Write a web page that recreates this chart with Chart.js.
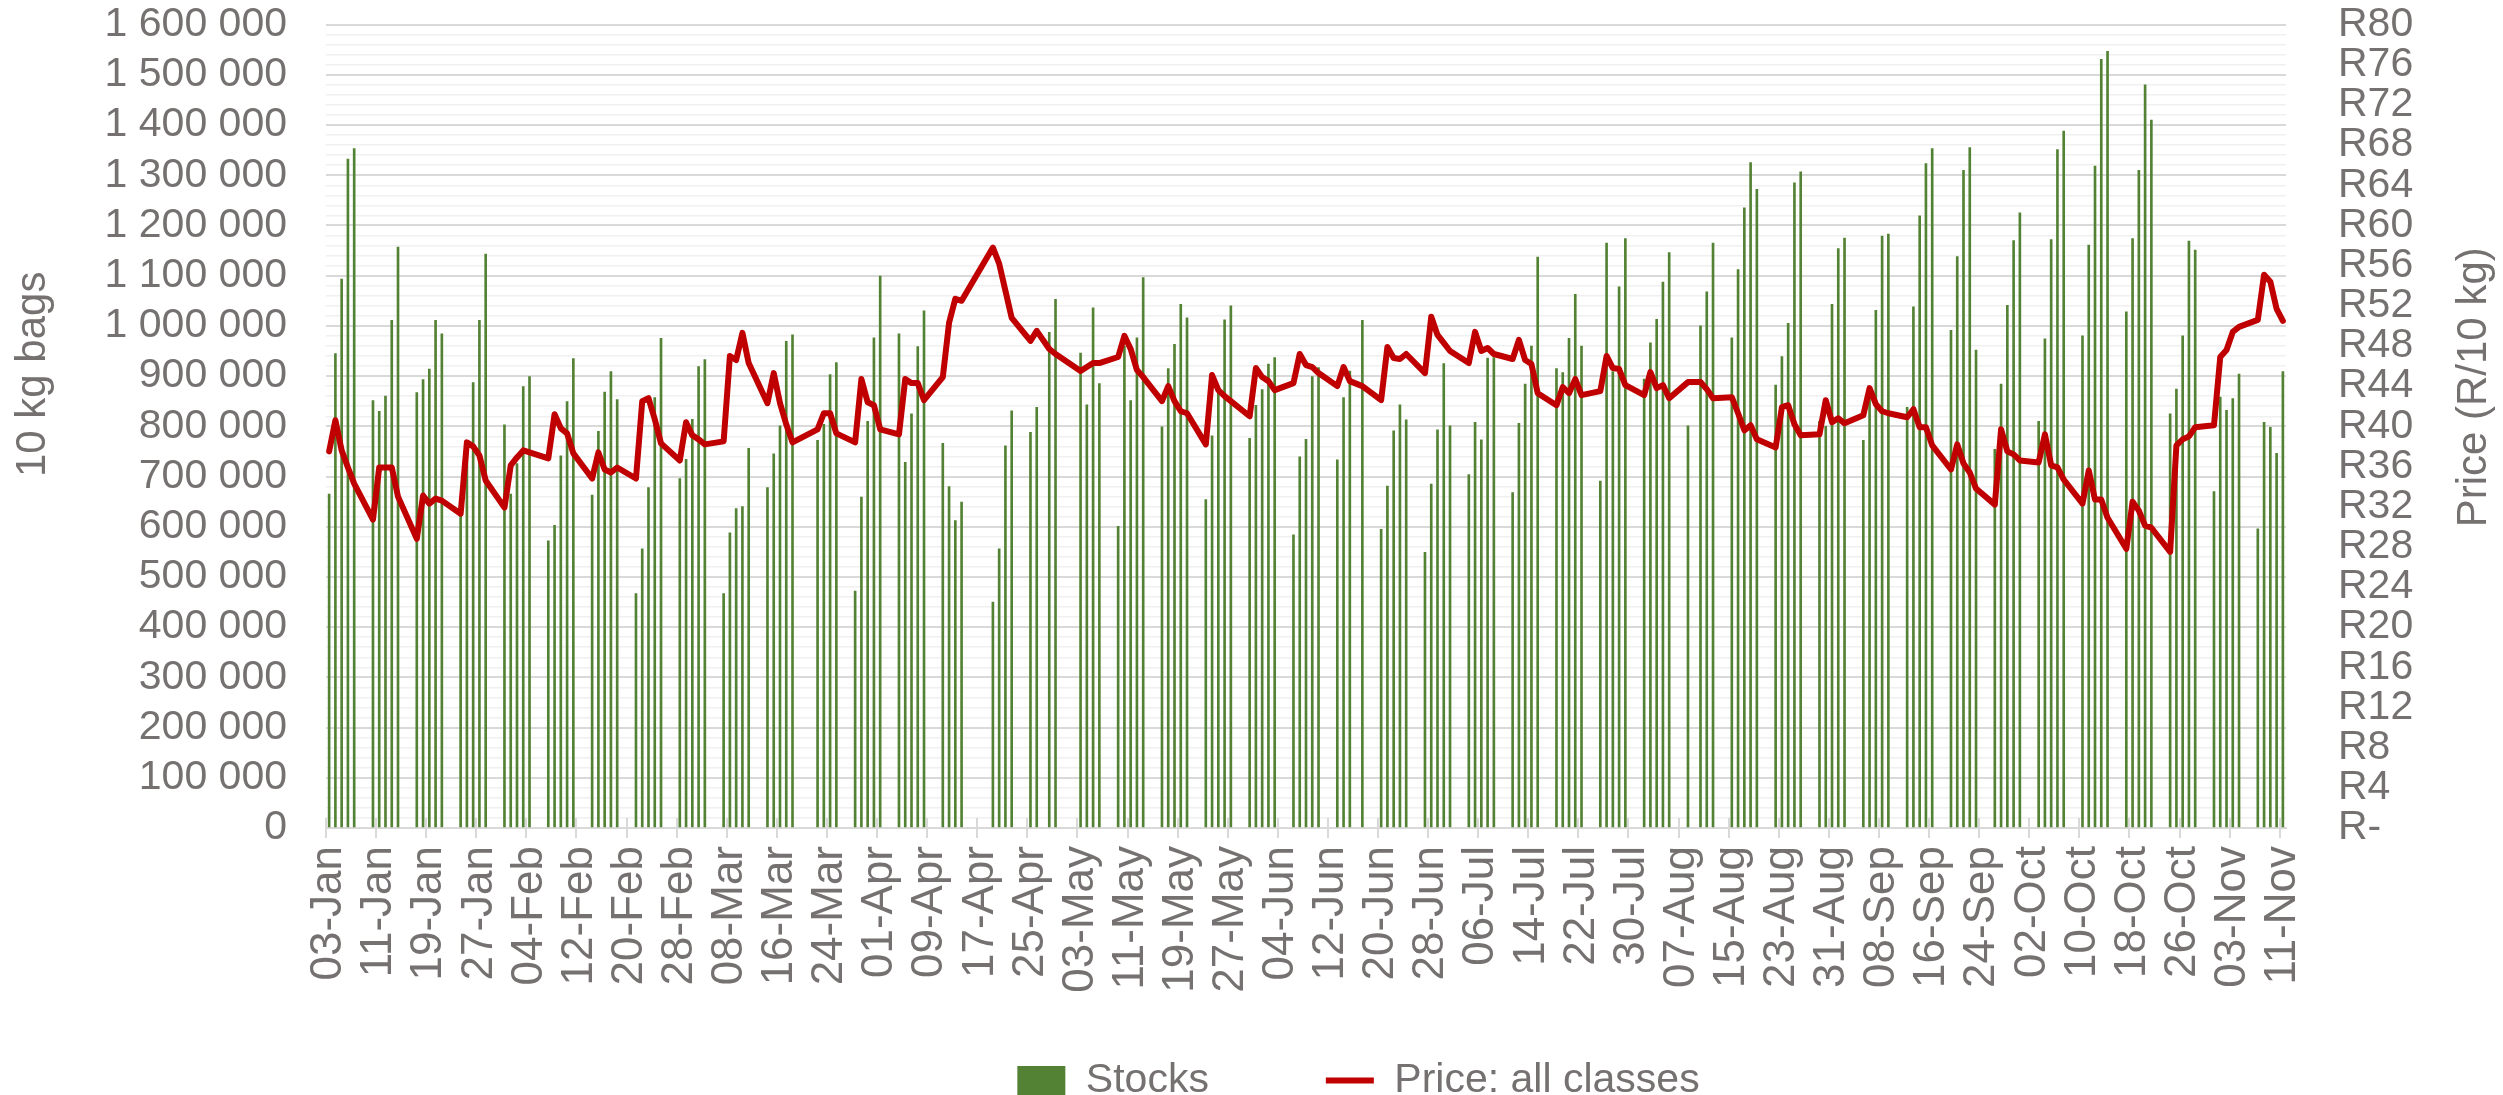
<!DOCTYPE html>
<html>
<head>
<meta charset="utf-8">
<script src="https://cdn.jsdelivr.net/npm/chart.js@4.4.1/dist/chart.umd.min.js"></script>
<style>
  html, body { margin: 0; padding: 0; background: #fff; }
  #wrap { width: 2503px; height: 1095px; }
</style>
</head>
<body>
<div id="wrap"><canvas id="myChart" width="2503" height="1095"></canvas></div>
<script>
// daily axis: 03-Jan to 11-Nov, one category per calendar day
const firstDay = "2022-01-03";
const dayCount = 313;

const tickLabels = [
  "03-Jan", "11-Jan", "19-Jan", "27-Jan", "04-Feb", "12-Feb", "20-Feb", "28-Feb",
  "08-Mar", "16-Mar", "24-Mar", "01-Apr", "09-Apr", "17-Apr", "25-Apr", "03-May",
  "11-May", "19-May", "27-May", "04-Jun", "12-Jun", "20-Jun", "28-Jun", "06-Jul",
  "14-Jul", "22-Jul", "30-Jul", "07-Aug", "15-Aug", "23-Aug", "31-Aug", "08-Sep",
  "16-Sep", "24-Sep", "02-Oct", "10-Oct", "18-Oct", "26-Oct", "03-Nov", "11-Nov",
];

// Monday..Friday of each week, null = public holiday (weekends have no data)
const stocksWeeks = [
  [665000, 945000, 1093000, 1332000, 1353000],
  [851000, 830000, 860000, 1011000, 1157000],
  [867000, 893000, 914000, 1011000, 984000],
  [625000, 760000, 887000, 1011000, 1143000],
  [803000, 665000, 726000, 879000, 899000],
  [572000, 603000, 741000, 849000, 935000],
  [663000, 790000, 868000, 909000, 853000],
  [467000, 556000, 678000, 857000, 975000],
  [696000, 734000, 814000, 919000, 933000],
  [467000, 588000, 636000, 640000, 756000],
  [678000, 745000, 801000, 969000, 982000],
  [null, 772000, 804000, 903000, 927000],
  [472000, 659000, 810000, 976000, 1099000],
  [984000, 728000, 825000, 959000, 1030000],
  [766000, 680000, 612000, 649000, null],
  [null, 450000, 556000, 761000, 831000],
  [788000, 838000, null, 987000, 1053000],
  [null, 946000, 843000, 1036000, 885000],
  [601000, 960000, 851000, 976000, 1096000],
  [799000, 915000, 963000, 1043000, 1016000],
  [654000, 781000, 866000, 1012000, 1040000],
  [776000, 842000, 873000, 924000, 937000],
  [584000, 739000, 774000, 899000, 917000],
  [733000, 857000, 910000, null, 1011000],
  [595000, 681000, 791000, 843000, 813000],
  [549000, 685000, 793000, 925000, 801000],
  [704000, 808000, 773000, 936000, 937000],
  [668000, 806000, 884000, 960000, 1137000],
  [915000, 907000, 975000, 1063000, 960000],
  [691000, 1165000, 909000, 1078000, 1174000],
  [894000, 966000, 1013000, 1087000, 1146000],
  [801000, null, 1000000, 1068000, 1165000],
  [976000, 1112000, 1235000, 1325000, 1272000],
  [882000, 939000, 1005000, 1285000, 1307000],
  [810000, 800000, 1043000, 1154000, 1175000],
  [772000, 872000, 1031000, 1179000, 1183000],
  [838000, 1038000, 1219000, 1323000, 1353000],
  [991000, 1138000, 1310000, 1355000, 952000],
  [754000, 884000, 1041000, 1170000, 1225000],
  [810000, 974000, 1172000, 1351000, 1388000],
  [980000, 1161000, 1318000, 1531000, 1547000],
  [1028000, 1174000, 1310000, 1480000, 1410000],
  [825000, 874000, 980000, 1169000, 1151000],
  [670000, 858000, 832000, 855000, 904000],
  [596000, 808000, 798000, 746000, 909000],
];

const priceWeeks = [
  [37.5, 40.6, 37.6, 35.9, 34.3],
  [30.7, 35.9, 35.9, 35.9, 33.0],
  [28.8, 33.1, 32.3, 32.8, 32.6],
  [31.3, 38.4, 38.0, 37.1, 34.6],
  [31.9, 36.1, 36.9, 37.6, 37.4],
  [36.8, 41.2, 39.8, 39.3, 37.3],
  [34.8, 37.4, 35.7, 35.4, 35.9],
  [34.8, 42.5, 42.8, 40.7, 38.3],
  [36.6, 40.4, 39.1, 38.7, 38.2],
  [38.5, 47.0, 46.6, 49.3, 46.3],
  [42.3, 45.3, 42.3, 40.2, 38.4],
  [null, 39.7, 41.3, 41.3, 39.3],
  [38.4, 44.7, 42.4, 42.1, 39.7],
  [39.2, 44.7, 44.3, 44.3, 42.6],
  [44.9, 50.3, 52.7, 52.5, null],
  [null, 57.8, 56.2, 53.5, 50.8],
  [48.5, 49.5, null, 47.7, 47.2],
  [null, 45.5, 45.9, 46.3, 46.3],
  [46.9, 49.0, 47.7, 45.6, 44.9],
  [42.5, 44.0, 42.5, 41.5, 41.3],
  [38.2, 45.1, 43.6, 43.0, 42.5],
  [41.0, 45.8, 44.9, 44.5, 43.6],
  [44.3, 47.2, 46.1, 45.9, 45.3],
  [44.0, 45.9, 44.5, null, 44.0],
  [42.6, 47.9, 46.8, 46.7, 47.2],
  [45.3, 50.9, 49.1, 48.3, 47.5],
  [46.3, 49.4, 47.5, 47.8, 47.2],
  [46.7, 48.6, 46.6, 46.2, 43.3],
  [42.1, 43.9, 43.3, 44.7, 43.1],
  [43.5, 47.0, 45.8, 45.7, 44.1],
  [43.1, 45.4, 43.8, 44.1, 42.8],
  [44.4, null, 44.4, 43.7, 42.8],
  [42.9, 41.3, 39.6, 40.1, 38.7],
  [37.9, 41.9, 42.1, 40.2, 39.1],
  [39.2, 42.6, 40.4, 40.8, 40.3],
  [41.1, 43.8, 42.2, 41.5, 41.3],
  [40.9, 41.7, 39.9, 39.9, 38.1],
  [35.7, 38.2, 36.3, 35.4, 33.8],
  [32.2, 39.7, 37.5, 37.2, 36.6],
  [36.4, 39.2, 36.1, 35.9, 34.7],
  [32.3, 35.6, 32.7, 32.7, 30.9],
  [27.8, 32.5, 31.6, 30.1, 29.9],
  [27.5, 38.1, 38.7, 39.0, 39.9],
  [40.1, 46.9, 47.6, 49.4, 49.9],
  [50.6, 55.1, 54.4, 51.7, 50.5],
];

const leftTitle = "10 kg bags";
const rightTitle = "Price (R/10 kg)";

const months = ["Jan", "Feb", "Mar", "Apr", "May", "Jun", "Jul", "Aug", "Sep", "Oct", "Nov", "Dec"];

const makeCategories = () => {
  const out = [];
  const d = new Date(firstDay + "T00:00:00Z");
  for (let i = 0; i < dayCount; i++) {
    out.push(String(d.getUTCDate()).padStart(2, "0") + "-" + months[d.getUTCMonth()]);
    d.setUTCDate(d.getUTCDate() + 1);
  }
  return out;
};

// weeks -> one entry per day, weekend days left empty
const spreadWeeks = (weeks) => {
  const out = [];
  weeks.forEach((week) => {
    week.forEach((v) => out.push(v));
    out.push(null, null);
  });
  return out.slice(0, dayCount);
};

const withSpaces = (v) => String(v).replace(/\B(?=(\d{3})+(?!\d))/g, " ");

const categories = makeCategories();
const stocks = spreadWeeks(stocksWeeks);
const price = spreadWeeks(priceWeeks);

const textColor = "#767171";
const gridColor = "#d9d9d9";
const fontFamily = "'Liberation Sans', Arial, sans-serif";
const clear = "rgba(0,0,0,0)";

// nudge the legend to where it sits in the original
const legendShift = {
  id: "legendShift",
  afterLayout(chart) {
    chart.legend.left += 107;
    chart.legend.right += 107;
  },
};

// the date ticks cross the axis line: draw the part that pokes up into the plot
const crossTicks = {
  id: "crossTicks",
  beforeDatasetsDraw(chart) {
    const x = chart.scales.x;
    const ctx = chart.ctx;
    const step = (x.right - x.left) / dayCount;
    ctx.save();
    ctx.strokeStyle = gridColor;
    ctx.lineWidth = 2;
    ctx.beginPath();
    for (let i = 0; i < dayCount; i += 8) {
      const px = Math.round(x.left + i * step);
      ctx.moveTo(px, x.top - 10);
      ctx.lineTo(px, x.top);
    }
    ctx.stroke();
    ctx.restore();
  },
};

// both axis titles read bottom-to-top and sit a little above the middle
const axisTitles = {
  id: "axisTitles",
  afterDraw(chart) {
    const ctx = chart.ctx;
    const mid = (chart.chartArea.top + chart.chartArea.bottom) / 2;
    const put = (text, x, y) => {
      ctx.save();
      ctx.translate(x, y);
      ctx.rotate(-Math.PI / 2);
      ctx.fillText(text, 0, 0);
      ctx.restore();
    };
    ctx.save();
    ctx.fillStyle = textColor;
    ctx.font = "42px " + fontFamily;
    ctx.textAlign = "center";
    ctx.textBaseline = "middle";
    put(leftTitle, 33, mid - 52);
    put(rightTitle, chart.width - 29, mid - 39);
    ctx.restore();
  },
};

const drawGraph = () => {
  const ctx = document.getElementById("myChart").getContext("2d");
  new Chart(ctx, {
    data: {
      labels: categories,
      datasets: [
        {
          type: "bar",
          label: "Stocks     ",
          data: stocks,
          yAxisID: "y",
          backgroundColor: "#548235",
          barThickness: 2,
          pointStyle: "rect",
          order: 1,
        },
        {
          type: "line",
          label: "Price: all classes",
          data: price,
          yAxisID: "y1",
          borderColor: "#C00000",
          backgroundColor: "#C00000",
          borderWidth: 6,
          borderJoinStyle: "round",
          borderCapStyle: "round",
          pointRadius: 0,
          pointStyle: "line",
          spanGaps: true,
          tension: 0,
          order: 0,
        },
      ],
    },
    options: {
      responsive: false,
      animation: false,
      devicePixelRatio: 1,
      layout: { padding: { top: 0, right: 0, bottom: -16, left: 0 } },
      plugins: {
        tooltip: { enabled: false },
        legend: {
          position: "bottom",
          labels: {
            usePointStyle: true,
            pointStyleWidth: 48,
            boxHeight: 29,
            padding: 60,
            color: textColor,
            font: { family: fontFamily, size: 41 },
            sort: (a, b) => a.datasetIndex - b.datasetIndex,
          },
        },
      },
      scales: {
        x: {
          type: "category",
          offset: true,
          grid: {
            offset: true,
            drawOnChartArea: false,
            drawTicks: true,
            tickLength: 10,
            color: (c) => (c.index % 8 === 0 ? gridColor : clear),
            lineWidth: 2,
          },
          border: { display: true, color: gridColor, width: 2 },
          ticks: {
            autoSkip: false,
            maxRotation: 90,
            minRotation: 90,
            padding: 8,
            color: textColor,
            font: { family: fontFamily, size: 44 },
            callback: (v, i) => (i % 8 === 0 ? tickLabels[i / 8] : ""),
          },
          afterFit: (s) => { s.height = 172; },
        },
        y: {
          position: "left",
          min: 0,
          max: 1600000,
          grid: {
            drawTicks: true,
            tickLength: 39,
            tickColor: clear,
            color: (c) => (c.tick && c.tick.value % 100000 === 0 ? gridColor : "#f0f0f0"),
            lineWidth: (c) => (c.tick && c.tick.value % 100000 === 0 ? 2 : 1.5),
          },
          border: { display: false },
          ticks: {
            stepSize: 20000,
            autoSkip: false,
            padding: 0,
            color: textColor,
            font: { family: fontFamily, size: 41 },
            callback: (v) => (v % 100000 === 0 ? withSpaces(v) : ""),
          },
          afterFit: (s) => { s.width = 326; },
        },
        y1: {
          position: "right",
          min: 0,
          max: 80,
          grid: { drawOnChartArea: false, drawTicks: true, tickLength: 52, tickColor: clear },
          border: { display: false },
          ticks: {
            stepSize: 4,
            autoSkip: false,
            padding: 0,
            color: textColor,
            font: { family: fontFamily, size: 41 },
            callback: (v) => (v === 0 ? "R-" : "R" + v),
          },
          afterFit: (s) => { s.width = 217; },
        },
      },
    },
    plugins: [legendShift, crossTicks, axisTitles],
  });
};

drawGraph();
</script>
</body>
</html>
